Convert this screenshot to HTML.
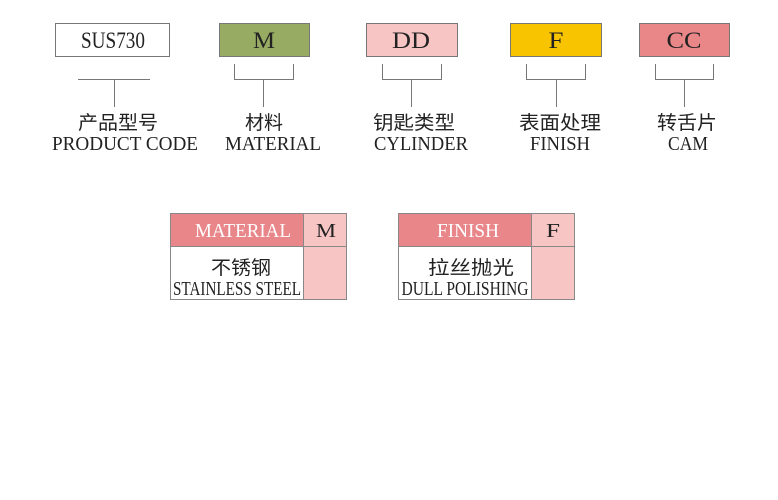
<!DOCTYPE html>
<html><head><meta charset="utf-8"><style>
html,body{margin:0;padding:0;background:#fff;width:778px;height:500px;overflow:hidden}
svg{display:block}
.s{font-family:"Liberation Serif","Noto Serif CJK SC",serif;fill:#222}
.c{font-family:"Liberation Sans","Noto Sans CJK SC",sans-serif;fill:#222}
</style></head><body>
<svg width="778" height="500" viewBox="0 0 778 500" xmlns="http://www.w3.org/2000/svg">
<g stroke="#777" stroke-width="1">
<rect x="55.5" y="23.5" width="114" height="33" fill="#fff"/>
<rect x="219.5" y="23.5" width="90" height="33" fill="#97ab62"/>
<rect x="366.5" y="23.5" width="91" height="33" fill="#f7c5c4"/>
<rect x="510.5" y="23.5" width="91" height="33" fill="#f8c400"/>
<rect x="639.5" y="23.5" width="90" height="33" fill="#e98688"/>
<g fill="none">
<path d="M78 79.5H150M114.5 79.5V107"/>
<path d="M234.5 64V79.5H293.5V64M263.5 79.5V107"/>
<path d="M382.5 64V79.5H441.5V64M411.5 79.5V107"/>
<path d="M526.5 64V79.5H585.5V64M556.5 79.5V107"/>
<path d="M655.5 64V79.5H713.5V64M684.5 79.5V107"/>
</g>
</g>
<g class="s" font-size="23" text-anchor="middle">
<text x="113" y="48" textLength="64" lengthAdjust="spacingAndGlyphs">SUS730</text>
<text x="264" y="48" textLength="22" lengthAdjust="spacingAndGlyphs">M</text>
<text x="411" y="48" textLength="38" lengthAdjust="spacingAndGlyphs">DD</text>
<text x="556" y="48" textLength="15" lengthAdjust="spacingAndGlyphs">F</text>
<text x="684" y="48" textLength="35" lengthAdjust="spacingAndGlyphs">CC</text>
</g>
<g class="c" font-size="19" text-anchor="middle">
<text x="118" y="129" textLength="80" lengthAdjust="spacingAndGlyphs">产品型号</text>
<text x="264" y="129" textLength="38" lengthAdjust="spacingAndGlyphs">材料</text>
<text x="414" y="129" textLength="82" lengthAdjust="spacingAndGlyphs">钥匙类型</text>
<text x="560" y="129" textLength="82" lengthAdjust="spacingAndGlyphs">表面处理</text>
<text x="687" y="129" textLength="60" lengthAdjust="spacingAndGlyphs">转舌片</text>
</g>
<g class="s" font-size="20" text-anchor="middle">
<text x="125" y="150" textLength="146" lengthAdjust="spacingAndGlyphs">PRODUCT CODE</text>
<text x="273" y="150" textLength="96" lengthAdjust="spacingAndGlyphs">MATERIAL</text>
<text x="421" y="150" textLength="94" lengthAdjust="spacingAndGlyphs">CYLINDER</text>
<text x="560" y="150" textLength="60" lengthAdjust="spacingAndGlyphs">FINISH</text>
<text x="688" y="150" textLength="40" lengthAdjust="spacingAndGlyphs">CAM</text>
</g>
<g stroke="#888" stroke-width="1">
<rect x="170.5" y="213.5" width="133" height="33" fill="#e8868a"/>
<rect x="303.5" y="213.5" width="43" height="33" fill="#f7c5c4"/>
<rect x="170.5" y="246.5" width="133" height="53" fill="#fff"/>
<rect x="303.5" y="246.5" width="43" height="53" fill="#f7c5c4"/>
<rect x="398.5" y="213.5" width="133" height="33" fill="#e8868a"/>
<rect x="531.5" y="213.5" width="43" height="33" fill="#f7c5c4"/>
<rect x="398.5" y="246.5" width="133" height="53" fill="#fff"/>
<rect x="531.5" y="246.5" width="43" height="53" fill="#f7c5c4"/>
</g>
<g class="s" font-size="20" text-anchor="middle">
<text x="243" y="237" style="fill:#fff" textLength="96" lengthAdjust="spacingAndGlyphs">MATERIAL</text>
<text x="326" y="237" textLength="20" lengthAdjust="spacingAndGlyphs">M</text>
<text x="468" y="237" style="fill:#fff" textLength="62" lengthAdjust="spacingAndGlyphs">FINISH</text>
<text x="553" y="237" textLength="14" lengthAdjust="spacingAndGlyphs">F</text>
<text x="237" y="295" textLength="128" lengthAdjust="spacingAndGlyphs">STAINLESS STEEL</text>
<text x="465" y="295" textLength="127" lengthAdjust="spacingAndGlyphs">DULL POLISHING</text>
</g>
<g class="c" font-size="19" text-anchor="middle">
<text x="241" y="274" textLength="60" lengthAdjust="spacingAndGlyphs">不锈钢</text>
<text x="471" y="274" textLength="86" lengthAdjust="spacingAndGlyphs">拉丝抛光</text>
</g>
</svg>
</body></html>
